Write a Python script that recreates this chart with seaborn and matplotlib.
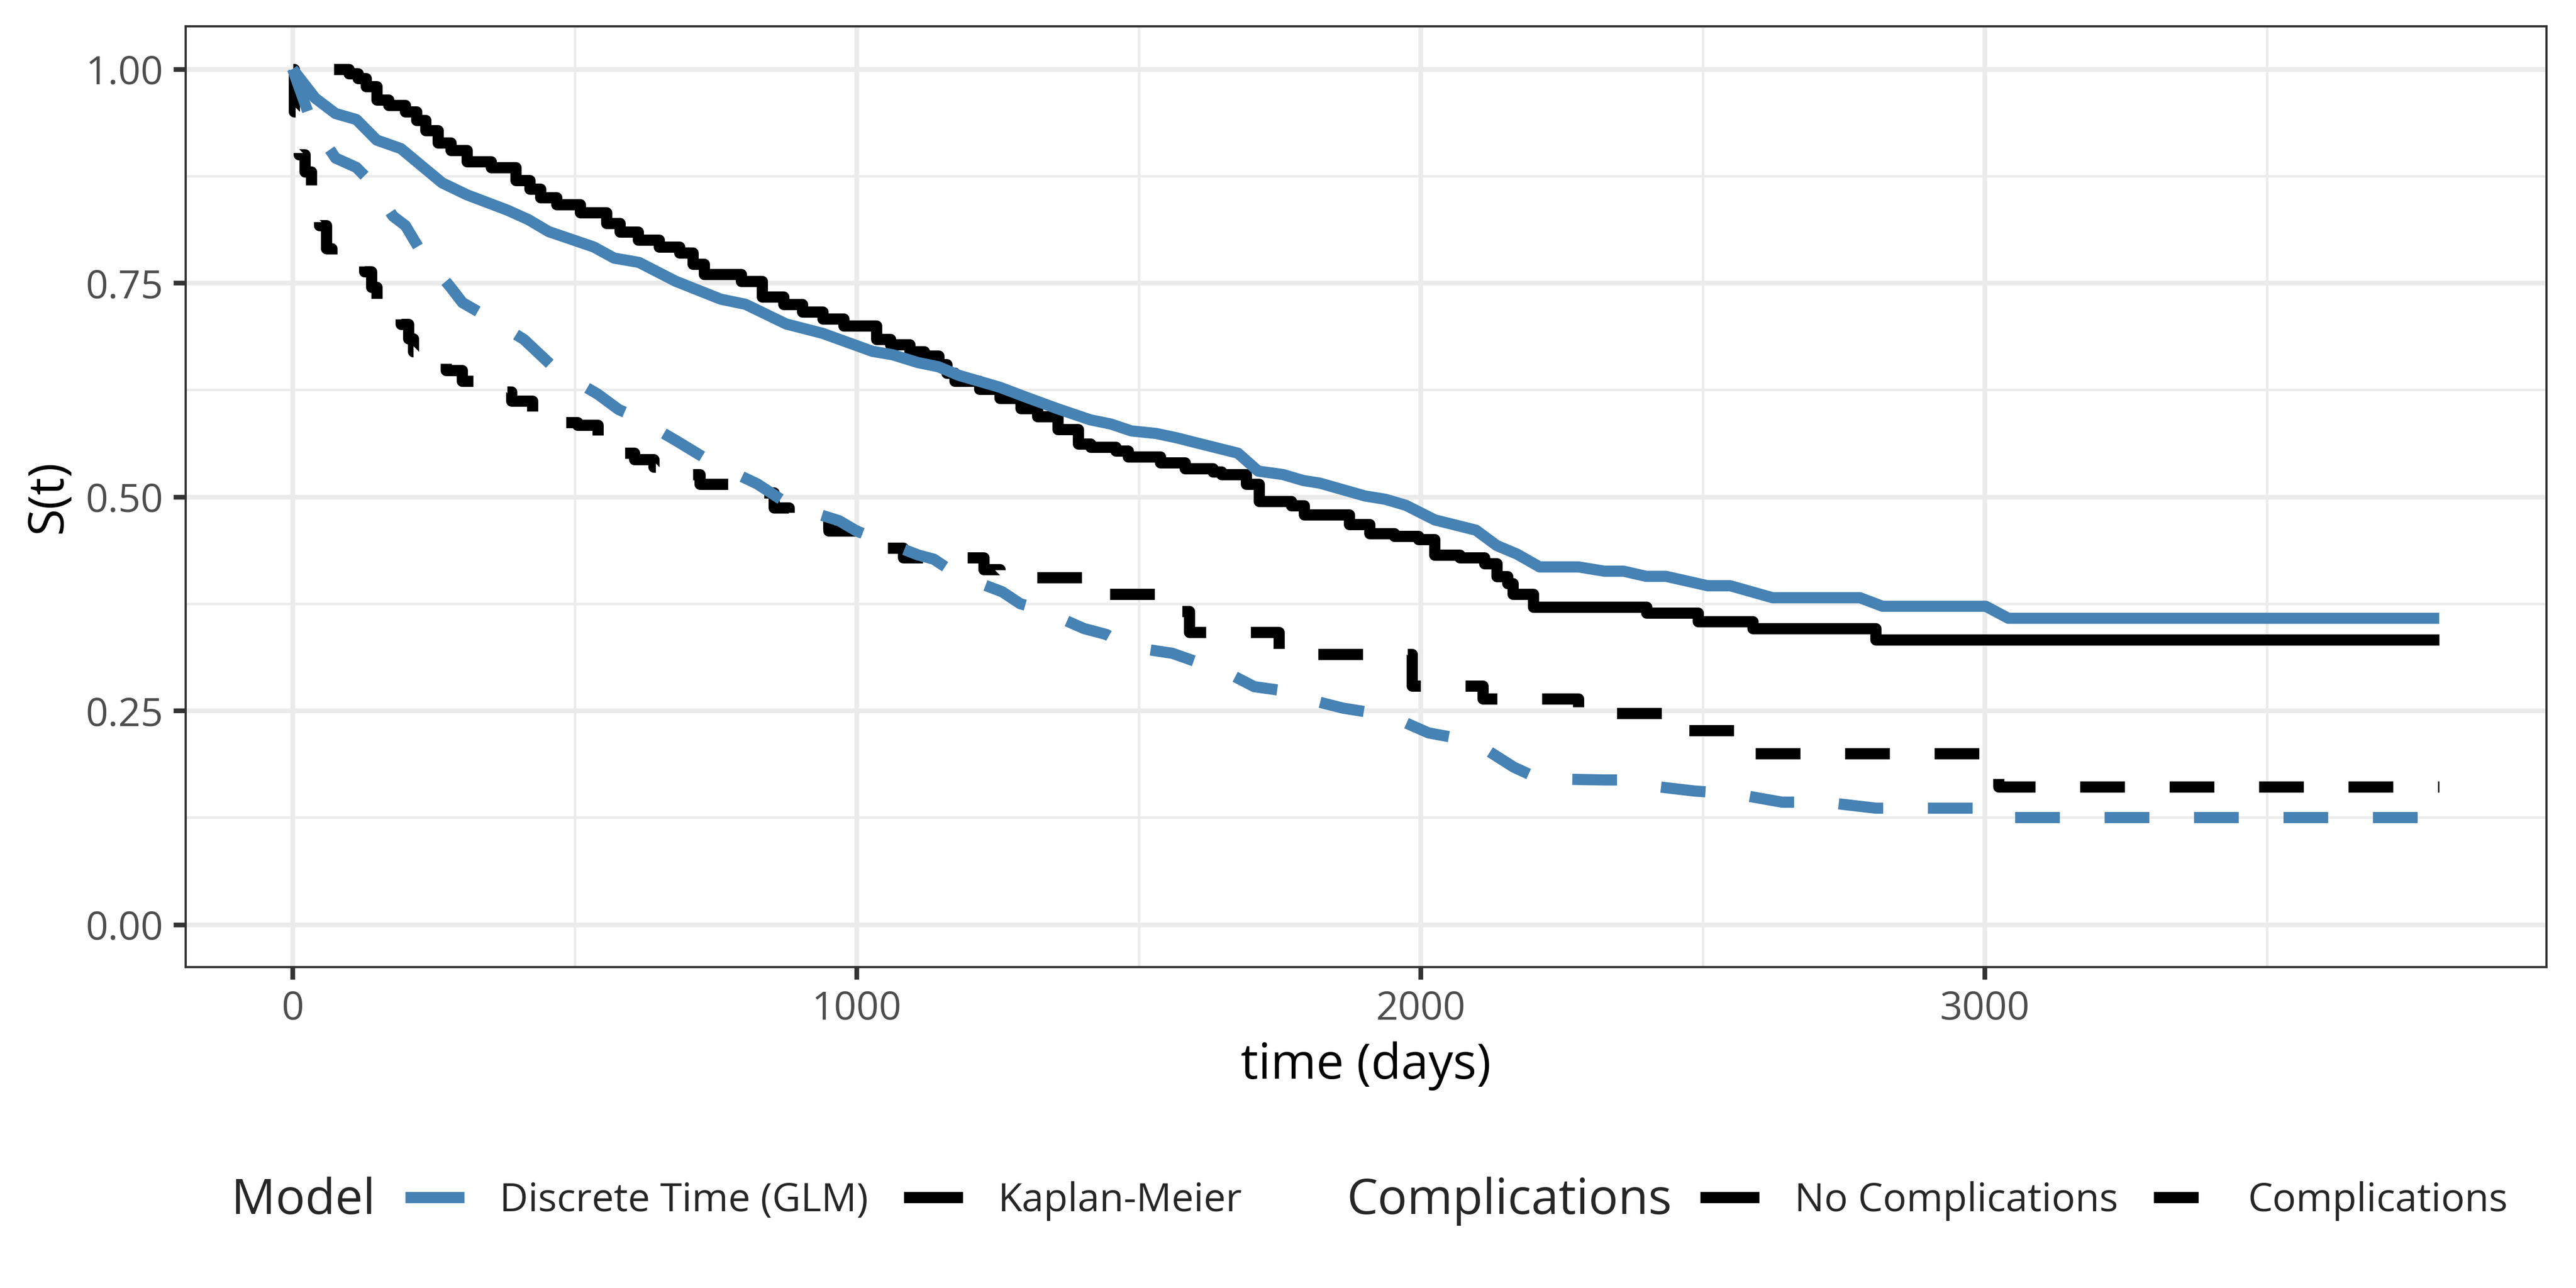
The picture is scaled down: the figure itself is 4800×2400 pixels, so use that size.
import matplotlib
matplotlib.use("Agg")
import matplotlib.pyplot as plt
from matplotlib.lines import Line2D
import pandas as pd
import seaborn as sns

# ---------------------------------------------------------------------------
# Survival curves (time in days, S(t))
# ---------------------------------------------------------------------------
km_no_t = [73, 100, 116, 130, 149, 170, 200, 220, 236, 258, 280, 309, 352, 396,
           420, 439, 468, 510, 556, 580, 613, 650, 686, 710, 730, 795, 832, 870,
           904, 940, 977, 1035, 1060, 1094, 1120, 1145, 1160, 1174, 1218, 1254,
           1291, 1320, 1357, 1393, 1415, 1459, 1481, 1538, 1582, 1632, 1647,
           1691, 1713, 1771, 1793, 1873, 1909, 1953, 1996, 2025, 2069, 2113,
           2135, 2154, 2164, 2200, 2400, 2492, 2589, 2807, 3806]
km_no_s = [1.0, 0.995, 0.989, 0.98, 0.964, 0.958, 0.95, 0.94, 0.928, 0.914,
           0.905, 0.892, 0.885, 0.87, 0.86, 0.85, 0.842, 0.832, 0.82, 0.81,
           0.80, 0.792, 0.785, 0.772, 0.76, 0.752, 0.734, 0.725, 0.716, 0.708,
           0.70, 0.684, 0.678, 0.67, 0.665, 0.655, 0.645, 0.635, 0.626, 0.615,
           0.603, 0.594, 0.579, 0.562, 0.558, 0.554, 0.547, 0.54, 0.533, 0.529,
           0.526, 0.515, 0.495, 0.49, 0.479, 0.468, 0.457, 0.454, 0.45, 0.432,
           0.429, 0.422, 0.407, 0.399, 0.386, 0.371, 0.364, 0.354, 0.346,
           0.333, 0.333]

km_comp_t = [1, 3, 11, 22, 33, 40, 47, 60, 69, 127, 140, 149, 192, 205, 214,
             272, 300, 323, 388, 425, 505, 541, 606, 640, 671, 722, 795, 853,
             880, 897, 950, 1000, 1050, 1083, 1225, 1254, 1421, 1552, 1590,
             1749, 1985, 2110, 2280, 2435, 2590, 3025, 3806]
km_comp_s = [1.0, 0.95, 0.90, 0.88, 0.856, 0.84, 0.817, 0.79, 0.774, 0.763,
             0.745, 0.727, 0.702, 0.685, 0.67, 0.648, 0.635, 0.623, 0.612,
             0.587, 0.584, 0.551, 0.544, 0.535, 0.526, 0.515, 0.505, 0.487,
             0.478, 0.469, 0.46, 0.45, 0.44, 0.429, 0.415, 0.406, 0.386, 0.366,
             0.342, 0.316, 0.279, 0.264, 0.247, 0.227, 0.200, 0.161, 0.161]

glm_no_t = [0, 40, 76, 113, 149, 192, 265, 309, 381, 418, 454, 534, 570, 614,
            679, 759, 803, 875, 940, 1028, 1064, 1108, 1145, 1181, 1254, 1298,
            1356, 1414, 1451, 1487, 1531, 1567, 1603, 1676, 1712, 1756, 1792,
            1821, 1901, 1938, 1974, 2025, 2098, 2135, 2171, 2211, 2280, 2326,
            2360, 2400, 2435, 2509, 2549, 2624, 2779, 2819, 3002, 3042, 3806]
glm_no_s = [1.0, 0.966, 0.948, 0.941, 0.917, 0.907, 0.867, 0.853, 0.835, 0.824,
            0.81, 0.792, 0.779, 0.774, 0.752, 0.731, 0.725, 0.702, 0.691, 0.67,
            0.666, 0.657, 0.652, 0.642, 0.628, 0.617, 0.603, 0.59, 0.585, 0.577,
            0.574, 0.569, 0.563, 0.551, 0.53, 0.526, 0.519, 0.516, 0.501, 0.497,
            0.49, 0.473, 0.461, 0.443, 0.433, 0.418, 0.418, 0.413, 0.413, 0.407,
            0.407, 0.396, 0.396, 0.382, 0.382, 0.372, 0.372, 0.358, 0.358]

glm_comp_t = [0, 35, 69, 76, 113, 134, 178, 200, 229, 280, 301, 338, 410, 468,
              541, 578, 606, 679, 744, 824, 882, 969, 1000, 1050, 1109, 1137,
              1178, 1258, 1290, 1327, 1403, 1443, 1480, 1560, 1603, 1632, 1705,
              1749, 1778, 1862, 1909, 1938, 2014, 2055, 2091, 2165, 2211, 2240,
              2326, 2360, 2395, 2486, 2555, 2641, 2716, 2807, 3002, 3036, 3806]
glm_comp_s = [1.0, 0.935, 0.903, 0.896, 0.885, 0.871, 0.828, 0.817, 0.785,
              0.745, 0.727, 0.713, 0.684, 0.648, 0.62, 0.602, 0.594, 0.566,
              0.54, 0.515, 0.49, 0.472, 0.46, 0.447, 0.432, 0.427, 0.409, 0.389,
              0.375, 0.368, 0.346, 0.339, 0.325, 0.317, 0.307, 0.303, 0.278,
              0.274, 0.267, 0.253, 0.248, 0.246, 0.224, 0.219, 0.215, 0.184,
              0.17, 0.17, 0.169, 0.169, 0.163, 0.156, 0.153, 0.143, 0.143,
              0.136, 0.136, 0.125, 0.125]

MODELS = ["Discrete Time (GLM)", "Kaplan-Meier"]
GROUPS = ["No Complications", "Complications"]
MODEL_COLORS = {"Discrete Time (GLM)": "#4682B4", "Kaplan-Meier": "black"}
GROUP_DASHES = {"No Complications": "", "Complications": (4, 4)}


def frame(t, s, model, group):
    return pd.DataFrame({"time": t, "surv": s, "model": model, "group": group})


km_df = pd.concat([frame(km_no_t, km_no_s, MODELS[1], GROUPS[0]),
                   frame(km_comp_t, km_comp_s, MODELS[1], GROUPS[1])])
glm_df = pd.concat([frame(glm_no_t, glm_no_s, MODELS[0], GROUPS[0]),
                    frame(glm_comp_t, glm_comp_s, MODELS[0], GROUPS[1])])

# ---------------------------------------------------------------------------
# Figure
# ---------------------------------------------------------------------------
sns.set_theme(style="white")
plt.rcParams["font.family"] = ["Open Sans", "DejaVu Sans"]

BASE = 22
LW = 5.0
GRID = "#EBEBEB"
DARK = "#333333"

fig = plt.figure(figsize=(16, 8), dpi=300)
ax = fig.add_axes([0.072, 0.249, 0.9165, 0.7306])

line_kws = dict(linewidth=LW, solid_capstyle="butt", dash_capstyle="butt",
                solid_joinstyle="round", dash_joinstyle="round")

# Kaplan-Meier step curves first, GLM lines on top
sns.lineplot(data=km_df, x="time", y="surv", style="group",
             style_order=GROUPS, dashes=GROUP_DASHES,
             color=MODEL_COLORS["Kaplan-Meier"], drawstyle="steps-post",
             estimator=None, sort=False, legend=False, ax=ax, **line_kws)
sns.lineplot(data=glm_df, x="time", y="surv", style="group",
             style_order=GROUPS, dashes=GROUP_DASHES,
             color=MODEL_COLORS["Discrete Time (GLM)"],
             estimator=None, sort=False, legend=False, ax=ax, **line_kws)

ax.set_xlim(-190, 3996)
ax.set_ylim(-0.05, 1.05)
ax.set_xticks([0, 1000, 2000, 3000])
ax.set_xticks([500, 1500, 2500, 3500], minor=True)
ax.set_yticks([0, 0.25, 0.5, 0.75, 1.0])
ax.set_yticklabels(["0.00", "0.25", "0.50", "0.75", "1.00"])
ax.set_yticks([0.125, 0.375, 0.625, 0.875], minor=True)

ax.set_axisbelow(True)
ax.grid(which="major", color=GRID, linewidth=2.1)
ax.grid(which="minor", color=GRID, linewidth=1.1)
ax.tick_params(which="major", length=5.5, width=2.1, color=DARK,
               labelsize=BASE * 0.8, labelcolor="#4D4D4D", pad=4.4,
               bottom=True, left=True)
ax.tick_params(which="minor", length=0)
for sp in ax.spines.values():
    sp.set_color(DARK)
    sp.set_linewidth(1.0)

ax.set_xlabel("time (days)", fontsize=BASE, color="black", labelpad=5.5)
ax.set_ylabel("S(t)", fontsize=BASE, color="black", labelpad=5.5)

# Legends (bottom, horizontal, titles to the left of the keys)
leg_y = 0.0675
fig.text(0.0898, leg_y, "Model", fontsize=BASE, va="center", ha="left")
model_handles = [Line2D([], [], color=MODEL_COLORS[m], linewidth=LW,
                        solid_capstyle="butt") for m in MODELS]
leg1 = fig.legend(model_handles, MODELS, loc="center left",
                  bbox_to_anchor=(0.1573, leg_y), ncol=2, frameon=False,
                  fontsize=BASE * 0.8, handlelength=1.5, handletextpad=0.9,
                  columnspacing=0.9, borderpad=0, borderaxespad=0)

fig.text(0.5227, leg_y, "Complications", fontsize=BASE, va="center", ha="left")
group_handles = [Line2D([], [], color="black", linewidth=LW,
                        solid_capstyle="butt", dash_capstyle="butt",
                        dashes=GROUP_DASHES[g] if GROUP_DASHES[g] else (None, None))
                 for g in GROUPS]
group_handles[0].set_linestyle("-")
leg2 = fig.legend(group_handles, GROUPS, loc="center left",
                  bbox_to_anchor=(0.66, leg_y), ncol=2, frameon=False,
                  fontsize=BASE * 0.8, handlelength=1.5, handletextpad=0.9,
                  columnspacing=0.9, borderpad=0, borderaxespad=0)

fig.savefig("out.png", dpi=300, facecolor="white")
plt.close(fig)
